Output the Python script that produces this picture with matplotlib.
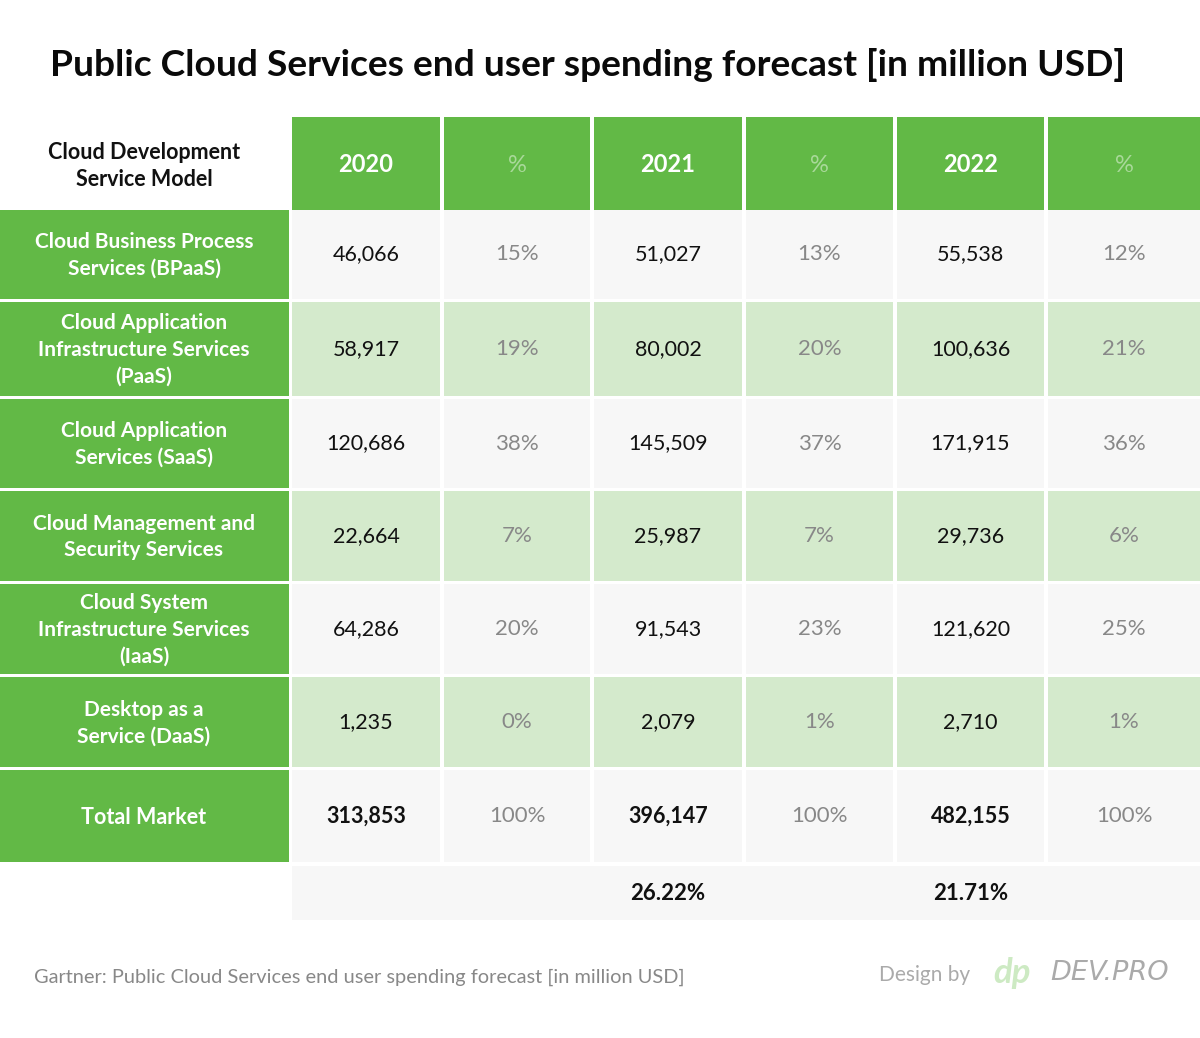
import matplotlib
matplotlib.use("Agg")
import matplotlib.pyplot as plt
import matplotlib.patches as ptc

plt.rcParams['font.family'] = ['Lato', 'DejaVu Sans']

# Table data
title = "Public Cloud Services end user spending forecast [in million USD]"
corner_label = "Cloud Development\nService Model"
col_headers = ["2020", "%", "2021", "%", "2022", "%"]
categories = [
    "Cloud Business Process\nServices (BPaaS)",
    "Cloud Application\nInfrastructure Services\n(PaaS)",
    "Cloud Application\nServices (SaaS)",
    "Cloud Management and\nSecurity Services",
    "Cloud System\nInfrastructure Services\n(IaaS)",
    "Desktop as a\nService (DaaS)",
    "Total Market",
]
spend_2020 = ["46,066", "58,917", "120,686", "22,664", "64,286", "1,235", "313,853"]
pct_2020 = ["15%", "19%", "38%", "7%", "20%", "0%", "100%"]
spend_2021 = ["51,027", "80,002", "145,509", "25,987", "91,543", "2,079", "396,147"]
pct_2021 = ["13%", "20%", "37%", "7%", "23%", "1%", "100%"]
spend_2022 = ["55,538", "100,636", "171,915", "29,736", "121,620", "2,710", "482,155"]
pct_2022 = ["12%", "21%", "36%", "6%", "25%", "1%", "100%"]
growth = ["", "", "26.22%", "", "21.71%", ""]
source = "Gartner: Public Cloud Services end user spending forecast [in million USD]"

columns = [spend_2020, pct_2020, spend_2021, pct_2021, spend_2022, pct_2022]

GREEN = "#62b946"
LIGHT_GREEN = "#d4eacc"
LIGHT_GREY = "#f7f7f7"

fig = plt.figure(figsize=(12, 10.38), dpi=100)
ax = fig.add_axes([0, 0, 1, 1])
ax.set_xlim(0, 1200)
ax.set_ylim(1038, 0)
ax.axis('off')

# layout in pixels
col_left = [292, 444, 594, 746, 897, 1048]
col_right = [440, 590, 742, 893, 1044, 1200]
row_top = [210, 302, 399, 491, 584, 677, 770]
row_bot = [299, 396, 488, 581, 674, 767, 862]
head_top, head_bot = 117, 210

ax.text(588, 65, title, ha='center', va='center', fontsize=26.7, fontweight='bold', color='#0a0a0a')

# header
ax.text(144, 166, corner_label, ha='center', va='center', fontsize=15.5,
        fontweight='bold', color='#111111', linespacing=1.3)
for j, h in enumerate(col_headers):
    ax.add_patch(ptc.Rectangle((col_left[j], head_top), col_right[j] - col_left[j],
                               head_bot - head_top, color=GREEN, lw=0))
    cx = (col_left[j] + col_right[j]) / 2
    if h == "%":
        ax.text(cx, 165, h, ha='center', va='center', fontsize=17, color='#a9d99a')
    else:
        ax.text(cx, 165, h, ha='center', va='center', fontsize=17, fontweight='bold', color='white')

# body rows
for i, cat in enumerate(categories):
    top, bot = row_top[i], row_bot[i]
    cy = (top + bot) / 2
    total = (i == len(categories) - 1)
    ax.add_patch(ptc.Rectangle((0, top), 289, bot - top, color=GREEN, lw=0))
    ax.text(144, cy + 1, cat, ha='center', va='center', fontsize=15.5 if total else 15,
            fontweight='bold', color='white', linespacing=1.42)
    bg = LIGHT_GREEN if i % 2 == 1 else LIGHT_GREY
    for j, col in enumerate(columns):
        ax.add_patch(ptc.Rectangle((col_left[j], top), col_right[j] - col_left[j],
                                   bot - top, color=bg, lw=0))
        cx = (col_left[j] + col_right[j]) / 2
        if j % 2 == 1:
            ax.text(cx, cy, col[i], ha='center', va='center', fontsize=16, color='#888888')
        else:
            ax.text(cx, cy, col[i], ha='center', va='center', fontsize=15.5,
                    fontweight='bold' if total else 'normal', color='#111111')

# growth row
ax.add_patch(ptc.Rectangle((292, 866), 1200 - 292, 920 - 866, color=LIGHT_GREY, lw=0))
for j, g in enumerate(growth):
    if g:
        cx = (col_left[j] + col_right[j]) / 2
        ax.text(cx, 894, g, ha='center', va='center', fontsize=16, fontweight='bold', color='#111111')

# footer
ax.text(34, 977, source, ha='left', va='center', fontsize=14.4, color='#888888')
ax.text(970, 975, "Design by", ha='right', va='center', fontsize=15, color='#aaaaaa')
ax.text(993, 973, "dp", ha='left', va='center', fontsize=25, fontweight='bold',
        style='italic', color='#cdeac3')
ax.text(1050, 973, "DEV.PRO", ha='left', va='center', fontsize=19.5, style='italic',
        color='#aaaaaa', family='DejaVu Sans')

fig.savefig("out.png", dpi=100)
